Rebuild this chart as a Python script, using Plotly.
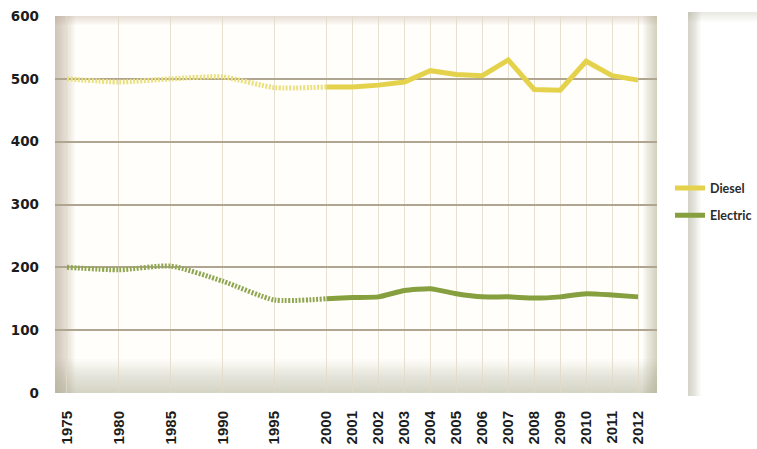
import plotly.graph_objects as go

years = [1975, 1980, 1985, 1990, 1995, 2000, 2001, 2002, 2003, 2004, 2005,
         2006, 2007, 2008, 2009, 2010, 2011, 2012]
diesel = [500, 495, 500, 503, 486, 487, 487, 490, 495, 513, 507, 505, 530,
          483, 482, 528, 505, 498]
electric = [200, 196, 202, 178, 148, 150, 152, 153, 163, 166, 158, 153, 153,
            151, 153, 158, 156, 153]
tick_labels = [str(y) for y in years]
y_ticks = [0, 100, 200, 300, 400, 500, 600]

# 5-year steps take two slots, yearly steps one slot
pos = [2 * (y - 1975) / 5 if y <= 2000 else 10 + (y - 2000) for y in years]
split = years.index(2000)

DIESEL = "#E5D24C"
DIESEL_LIGHT = "#EAE07E"
ELEC = "#86A03F"
ELEC_LIGHT = "#90A752"

fig = go.Figure()
fig.add_trace(go.Scatter(x=pos[:split + 1], y=diesel[:split + 1], mode="lines",
                         line=dict(color=DIESEL_LIGHT, width=5, dash="2px,1.5px", shape="spline", smoothing=0.6),
                         showlegend=False, hoverinfo="skip"))
fig.add_trace(go.Scatter(x=pos[:split + 1], y=electric[:split + 1], mode="lines",
                         line=dict(color=ELEC_LIGHT, width=5, dash="2px,1.5px", shape="spline", smoothing=0.6),
                         showlegend=False, hoverinfo="skip"))
fig.add_trace(go.Scatter(x=pos[split:], y=diesel[split:], mode="lines", name="Diesel",
                         legendgroup="d", line=dict(color=DIESEL, width=5)))
fig.add_trace(go.Scatter(x=pos[split:], y=electric[split:], mode="lines", name="Electric",
                         legendgroup="e", line=dict(color=ELEC, width=5, shape="spline", smoothing=0.5)))

shapes = []
W, H = 602.0, 377.0


def edge(side, depth, steps, color, total):
    a = total / steps
    for i in range(1, steps + 1):
        d = depth * i / steps
        if side == "left":
            x0, x1, y0, y1 = 0, d / W, 0, 1
        elif side == "right":
            x0, x1, y0, y1 = 1 - d / W, 1, 0, 1
        elif side == "bottom":
            x0, x1, y0, y1 = 0, 1, 0, d / H
        else:
            x0, x1, y0, y1 = 0, 1, 1 - d / H, 1
        shapes.append(dict(type="rect", xref="x domain", yref="y domain",
                           x0=x0, x1=x1, y0=y0, y1=y1, line=dict(width=0),
                           fillcolor=color, opacity=a, layer="below"))


edge("left", 20, 14, "rgb(165,148,120)", 0.65)
edge("right", 14, 10, "rgb(165,148,120)", 0.5)
edge("bottom", 34, 16, "rgb(175,158,130)", 0.55)
edge("top", 9, 8, "rgb(175,158,130)", 0.35)

# legend panel shadow (paper coords)
PW = 702.0
PH = 377.0
for i in range(1, 13):
    d = 13 * i / 12
    shapes.append(dict(type="rect", xref="paper", yref="paper",
                       x0=(688 - 55) / PW, x1=(688 - 55 + d) / PW,
                       y0=(393 - 396) / PH, y1=(393 - 12) / PH,
                       line=dict(width=0), fillcolor="rgb(150,135,110)",
                       opacity=0.035, layer="below"))
for i in range(1, 8):
    d = 10 * i / 7
    shapes.append(dict(type="rect", xref="paper", yref="paper",
                       x0=(688 - 55) / PW, x1=1,
                       y0=(393 - 12 - d) / PH, y1=(393 - 12) / PH,
                       line=dict(width=0), fillcolor="rgb(170,155,130)",
                       opacity=0.03, layer="below"))

fig.update_layout(
    width=757, height=449,
    margin=dict(l=55, r=0, t=16, b=56, autoexpand=False),
    paper_bgcolor="white",
    plot_bgcolor="#FFFEFB",
    shapes=shapes,
    showlegend=True,
    legend=dict(x=(670 - 55) / PW, xanchor="left", y=0.507, yanchor="middle",
                bgcolor="rgba(0,0,0,0)", tracegroupgap=8,
                font=dict(family="Lato", size=12.5, color="#2a2a2a", weight="bold")),
    xaxis=dict(domain=[0, 602 / PW], range=[-0.46, 22.73],
               tickmode="array", tickvals=pos, ticktext=tick_labels,
               tickangle=-90, ticklabelstandoff=14,
               tickfont=dict(family="Liberation Sans", size=15, color="#1c1c1c", weight="bold"),
               showgrid=True, gridcolor="rgba(225,218,200,0.8)", gridwidth=1,
               zeroline=False, showline=False, ticks=""),
    yaxis=dict(range=[0, 600], tickmode="array", tickvals=y_ticks,
               ticklabelstandoff=15, ticklabeloverflow="allow",
               tickfont=dict(family="DejaVu Sans", size=13.5, color="#1c1c1c", weight="bold"),
               showgrid=True, gridcolor="rgb(175,165,145)", gridwidth=1.5,
               zeroline=False, showline=False, ticks=""),
)

fig.write_html("out.html", config={"displayModeBar": False},
               post_script="document.body.style.margin='0';document.body.style.overflow='hidden';")
